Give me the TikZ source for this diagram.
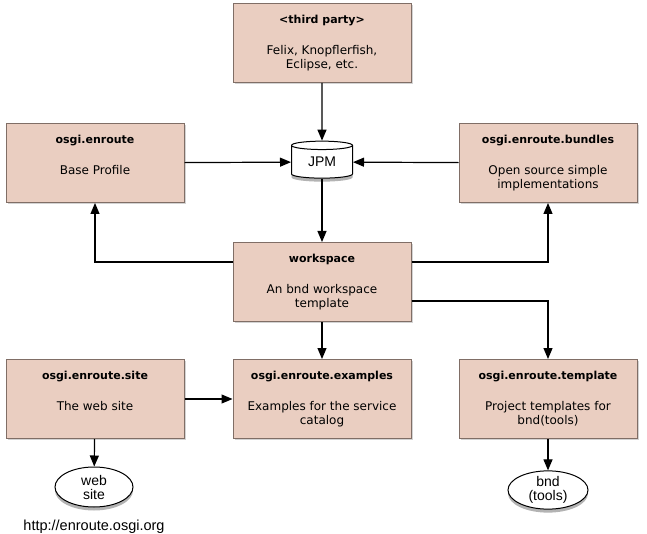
\documentclass[tikz,border=0pt]{standalone}
\usepackage{fontspec}
\setmainfont{DejaVu Sans}
\newfontfamily\helvfont{Liberation Sans}
\usepackage{tikz}
\usetikzlibrary{shapes,arrows,arrows.meta,shadows}

\newcommand{\osgitext}[2]{\parbox[c][79pt][t]{176pt}{\centering\rule{0pt}{20pt}\fontsize{11}{14}\selectfont\bfseries #1\\[17pt]\fontsize{12}{14}\selectfont\mdseries #2}}

\begin{document}
\begin{tikzpicture}[x=1pt,y=-1pt,line width=1.2pt,>={Triangle[length=11pt,width=9pt]}]
\useasboundingbox (0,0) rectangle (647,534);
\definecolor{boxFill}{RGB}{234,206,193}
\definecolor{boxLine}{RGB}{128,110,102}
\tikzset{
  osgibox/.style={rectangle,draw=boxLine,line width=1pt,fill=boxFill,inner sep=0pt,
    minimum width=178pt,minimum height=79pt,anchor=north,
    drop shadow={shadow xshift=1.5pt,shadow yshift=-1.5pt,opacity=0.35}},
  store/.style={draw=black,line width=1pt,fill=white,font=\helvfont\fontsize{14}{15}\selectfont,
    drop shadow={shadow xshift=0pt,shadow yshift=-3.5pt,opacity=0.6}},
}
% boxes
\node[osgibox] (third) at (322,3) {\osgitext{<third party>}{Felix, Knopflerfish,\\ Eclipse, etc.}};
\node[osgibox] (base) at (95,123) {\osgitext{osgi.enroute}{Base Profile}};
\node[osgibox] (bundles) at (548,123) {\osgitext{osgi.enroute.bundles}{Open source simple\\ implementations}};
\node[osgibox] (workspace) at (322,242) {\osgitext{workspace}{An bnd workspace\\ template}};
\node[osgibox] (site) at (95,359) {\osgitext{osgi.enroute.site}{The web site}};
\node[osgibox] (examples) at (322,359) {\osgitext{osgi.enroute.examples}{Examples for the service\\ catalog}};
\node[osgibox] (template) at (548,359) {\osgitext{osgi.enroute.template}{Project templates for\\ bnd(tools)}};
% repository and sites
\node[store,cylinder,shape border rotate=90,aspect=0.3,minimum width=61pt,minimum height=37pt,inner sep=0pt] (jpm) at (322,162) {JPM};
\node[store,ellipse,minimum width=78pt,minimum height=40pt,inner sep=0pt,align=center] (web) at (94,487) {web\\[-1pt] site};
\node[store,ellipse,minimum width=80pt,minimum height=38pt,inner sep=0pt,align=center] (bnd) at (548,490) {bnd\\[-1pt] (tools)};
\node[font=\helvfont\fontsize{14.5}{16}\selectfont] (url) at (94,527) {http://enroute.osgi.org};
% connectors
\draw[->] (third) -- (jpm);
\draw[->] (base) -- (jpm);
\draw[->] (bundles) -- (jpm);
\draw[->] (jpm) -- (workspace);
\draw[->] ([yshift=-20pt]workspace.north west) -| (base.south);
\draw[->] ([yshift=-20pt]workspace.north east) -| (bundles.south);
\draw[->] ([yshift=-59pt]workspace.north east) -| (template.north);
\draw[->] (workspace) -- (examples);
\draw[->] (site) -- (examples);
\draw[->] (site) -- (web);
\draw[->] (template) -- (bnd);
\end{tikzpicture}
\end{document}
